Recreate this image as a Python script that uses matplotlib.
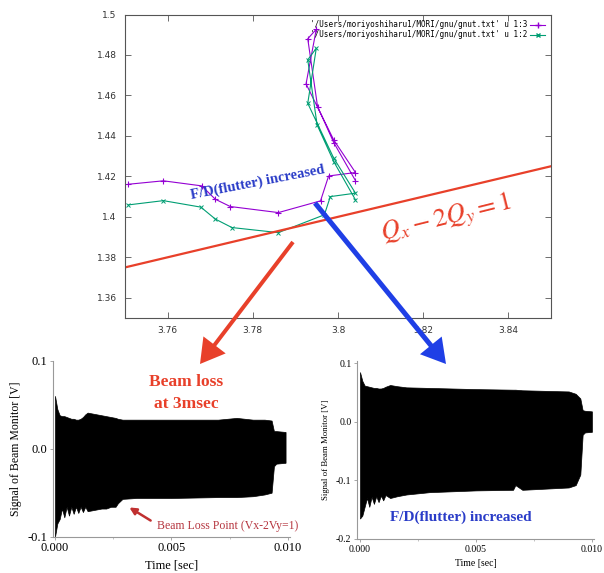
import numpy as np
import matplotlib.pyplot as plt
import matplotlib.patches as mpatches
from matplotlib.lines import Line2D
from matplotlib.ticker import FuncFormatter, MultipleLocator

plt.rcParams['mathtext.fontset'] = 'stix'

# tune trajectory (gnuplot file, columns 1:3 and 1:2)
qx_3 = [3.7508, 3.7590, 3.7680, 3.7712, 3.7747, 3.7860, 3.7959, 3.7978, 3.8041,
        3.7990, 3.7925, 3.7949, 3.7929, 3.7952, 3.7990, 3.8041]
qy_3 = [1.4161, 1.4178, 1.4153, 1.4087, 1.4051, 1.4021, 1.4079, 1.4202, 1.4219,
        1.4380, 1.4657, 1.4927, 1.4880, 1.4545, 1.4367, 1.4179]
qx_2 = [3.7508, 3.7590, 3.7678, 3.7712, 3.7751, 3.7860, 3.7968, 3.7982, 3.8041,
        3.7990, 3.7929, 3.7949, 3.7929, 3.7951, 3.7990, 3.8041]
qy_2 = [1.4059, 1.4080, 1.4048, 1.3989, 1.3947, 1.3922, 1.4010, 1.4100, 1.4117,
        1.4290, 1.4561, 1.4833, 1.4776, 1.4454, 1.4273, 1.4084]
res_qx = [3.75, 3.85]          # Qx - 2Qy = 1
legend_3 = "'/Users/moriyoshiharu1/MORI/gnu/gnut.txt' u 1:3"
legend_2 = "'/Users/moriyoshiharu1/MORI/gnu/gnut.txt' u 1:2"

# beam monitor envelopes, loss case (left)
t_a = [0.0, 0.0001, 0.0002, 0.0003, 0.0004, 0.0005, 0.0006, 0.0007, 0.0008, 0.0009,
       0.0010, 0.0011, 0.0012, 0.0013, 0.0014, 0.0016, 0.0018, 0.0020, 0.0022,
       0.0024, 0.0026, 0.0027, 0.0029, 0.0035, 0.0050, 0.0070, 0.0078, 0.0085,
       0.0090, 0.0093, 0.0094, 0.0095, 0.0099]
up_a = [0.06, 0.045, 0.038, 0.037, 0.037, 0.036, 0.035, 0.034, 0.034, 0.033,
        0.033, 0.034, 0.036, 0.039, 0.041, 0.040, 0.039, 0.038, 0.037,
        0.036, 0.035, 0.034, 0.033, 0.033, 0.033, 0.033, 0.035, 0.033,
        0.033, 0.032, 0.020, 0.020, 0.019]
lo_a = [-0.10, -0.085, -0.080, -0.068, -0.078, -0.066, -0.076, -0.066, -0.074, -0.066,
        -0.073, -0.066, -0.072, -0.066, -0.071, -0.070, -0.069, -0.068, -0.068,
        -0.066, -0.066, -0.062, -0.057, -0.056, -0.056, -0.055, -0.055, -0.054,
        -0.052, -0.050, -0.020, -0.017, -0.016]

# beam monitor envelopes, flutter case (right)
t_b = [0.0, 0.0001, 0.0002, 0.0003, 0.0004, 0.0005, 0.0006, 0.0007, 0.0008, 0.0009,
       0.0010, 0.0011, 0.0013, 0.0016, 0.0020, 0.0030, 0.0050, 0.0066, 0.0067,
       0.0070, 0.0090, 0.0093, 0.0095, 0.0096, 0.0097, 0.0100]
up_b = [0.085, 0.070, 0.062, 0.061, 0.060, 0.059, 0.058, 0.058, 0.057, 0.057,
        0.058, 0.060, 0.063, 0.061, 0.059, 0.058, 0.056, 0.055, 0.055,
        0.054, 0.052, 0.048, 0.040, 0.020, 0.019, 0.018]
lo_b = [-0.165, -0.160, -0.145, -0.130, -0.145, -0.128, -0.140, -0.127, -0.137, -0.126,
        -0.134, -0.125, -0.130, -0.127, -0.124, -0.120, -0.117, -0.116, -0.108,
        -0.116, -0.112, -0.108, -0.090, -0.022, -0.018, -0.017]

fig = plt.figure(figsize=(6.04, 5.73), dpi=100)
W, H = 604, 573

def px_axes(l, t, r, b):
    return fig.add_axes([l / W, 1 - b / H, (r - l) / W, (b - t) / H])

# ---- top gnuplot panel
ax = px_axes(125, 14.5, 551, 318)
ax.plot(qx_3, qy_3, color='#9400d3', lw=0.8, marker='+', ms=4, mew=0.8)
ax.plot(qx_2, qy_2, color='#009e73', lw=0.8, marker='x', ms=3, mew=0.7)
ax.plot(res_qx, [(q - 1) / 2 for q in res_qx], color='#e8402a', lw=1.6)
ax.set_xlim(3.75, 3.85)
ax.set_ylim(1.35, 1.5)
ax.xaxis.set_major_locator(MultipleLocator(0.02))
ax.yaxis.set_major_locator(MultipleLocator(0.02))
fmt = FuncFormatter(lambda v, p: '%g' % round(v, 4))
ax.xaxis.set_major_formatter(fmt)
ax.yaxis.set_major_formatter(fmt)
ax.tick_params(direction='in', top=True, right=True, length=4, width=0.6,
               labelsize=6.5, labelcolor='#333333', color='#555555', pad=6)
for s in ax.spines.values():
    s.set_color('#555555')
    s.set_linewidth(0.8)
handles = [Line2D([], [], color='#9400d3', lw=0.8, marker='+', ms=4),
           Line2D([], [], color='#009e73', lw=0.8, marker='x', ms=3)]
ax.legend(handles, [legend_3, legend_2], loc='upper right', frameon=False,
          markerfirst=False, handlelength=2.0, handletextpad=0.4, labelspacing=0.15,
          borderaxespad=0.35, prop={'family': 'DejaVu Sans Mono', 'size': 5.5})
ax.text(3.7811, 1.4168, 'F/D(flutter) increased', color='#2a3cc8', fontsize=10.5,
        fontweight='bold', family='Liberation Serif', rotation=11, ha='center',
        va='center')
ax.text(3.8255, 1.3985, r'$Q_x - 2Q_y = 1$', color='#e8402a', fontsize=19,
        rotation=14, ha='center', va='center')

# ---- bottom left: beam loss
axl = px_axes(53, 360.7, 290, 536.7)
axl.fill_between(t_a, lo_a, up_a, color='black', lw=0.5)
axl.set_xlim(-0.000086, 0.01009)
axl.set_ylim(-0.1, 0.1)
axl.set_xticks([0.0, 0.005, 0.010])
axl.set_xticklabels(['0.000', '0.005', '0.010'])
axl.set_yticks([-0.1, 0.0, 0.1])
axl.set_yticklabels(['-0.1', '0.0', '0.1'])
axl.set_xlabel('Time [sec]', family='Liberation Serif', fontsize=9, labelpad=4)
axl.set_ylabel('Signal of Beam Monitor [V]', family='Liberation Serif', fontsize=8.5)

# ---- bottom right: flutter increased
axr = px_axes(357, 361, 594, 539)
axr.fill_between(t_b, lo_b, up_b, color='black', lw=0.5)
axr.set_xlim(-0.00013, 0.01009)
axr.set_ylim(-0.2, 0.104)
axr.set_xticks([0.0, 0.005, 0.010])
axr.set_xticklabels(['0.000', '0.005', '0.010'])
axr.set_yticks([-0.2, -0.1, 0.0, 0.1])
axr.set_yticklabels(['-0.2', '-0.1', '0.0', '0.1'])
axr.set_xlabel('Time [sec]', family='Liberation Serif', fontsize=7, labelpad=4)
axr.set_ylabel('Signal of Beam Monitor [V]', family='Liberation Serif', fontsize=6.3)

for a, fs in ((axl, 9), (axr, 7)):
    for side in ('top', 'right'):
        a.spines[side].set_visible(False)
    for side in ('left', 'bottom'):
        a.spines[side].set_color('#999999')
        a.spines[side].set_linewidth(0.8)
    a.xaxis.set_minor_locator(MultipleLocator(0.0025))
    a.tick_params(length=2, width=0.6, color='#999999', labelsize=fs, pad=2)
    a.tick_params(which='minor', length=1.5, width=0.5, color='#aaaaaa')
    for lab in a.get_xticklabels() + a.get_yticklabels():
        lab.set_family('Liberation Serif')

axr.text(0.00435, -0.163, 'F/D(flutter) increased', color='#2a3cc8', fontsize=11,
         fontweight='bold', family='Liberation Serif', ha='center', va='center')

# ---- overlay for drawn arrows and notes (pixel coordinates)
ov = fig.add_axes([0, 0, 1, 1], facecolor='none')
ov.set_xlim(0, W)
ov.set_ylim(H, 0)
ov.axis('off')
ov.add_patch(mpatches.FancyArrow(293, 242, 200 - 293, 364 - 242, width=4,
                                 head_width=28, head_length=24,
                                 length_includes_head=True, color='#e8402a', lw=0))
ov.add_patch(mpatches.FancyArrow(315, 203, 446 - 315, 364 - 203, width=5,
                                 head_width=28, head_length=24,
                                 length_includes_head=True, color='#1f3fe6', lw=0))
ov.text(186, 393, 'Beam loss\nat 3msec', color='#e8402a', fontsize=12.5,
        fontweight='bold', family='Liberation Serif', ha='center', va='center',
        linespacing=1.45)
ov.text(157, 526, 'Beam Loss Point (Vx-2Vy=1)', color='#b5353f', fontsize=8.5,
        family='Liberation Serif', ha='left', va='center')
ov.annotate('', xy=(127, 506), xytext=(153, 522),
            arrowprops=dict(arrowstyle='-|>', color='#c03030', lw=1.8,
                            mutation_scale=10))

fig.savefig('out.png', dpi=100)
